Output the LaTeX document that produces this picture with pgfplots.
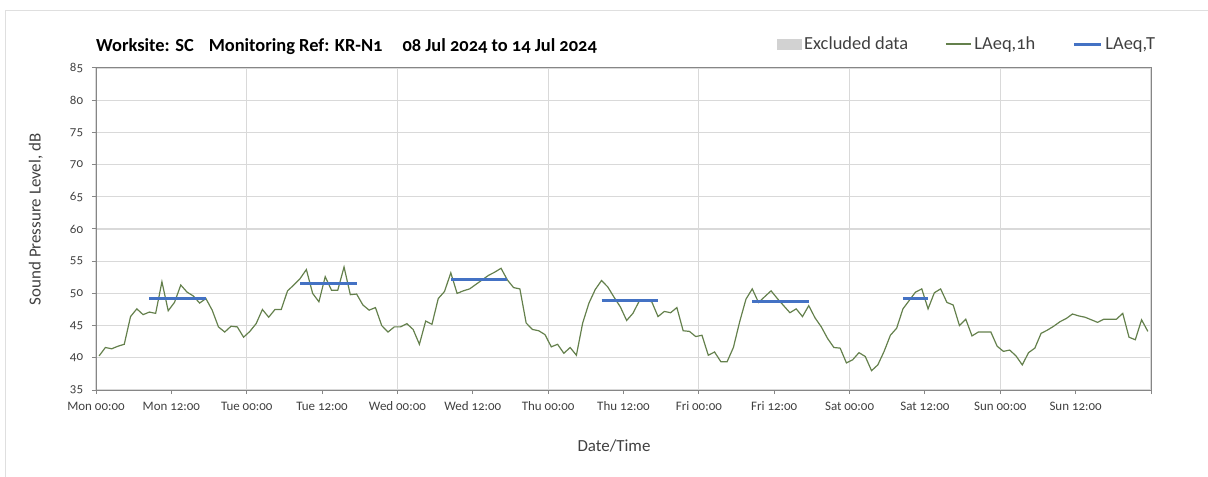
\documentclass[border=0pt]{standalone}
\usepackage{fontspec}
\setmainfont{Carlito}[Numbers=OldStyle]
\usepackage{pgfplots}
\pgfplotsset{compat=1.18}
\usepackage{pgfplotstable}
\definecolor{lineolive}{RGB}{100,128,76}
\definecolor{lineblue}{RGB}{68,114,196}
\definecolor{gridgray}{RGB}{217,217,217}
\definecolor{axisgray}{RGB}{134,134,134}
\definecolor{exclgray}{RGB}{210,210,210}
\definecolor{txt}{RGB}{64,64,64}

\pgfplotstableread{
x y
0.5 40.3
1.5 41.6
2.5 41.4
3.5 41.8
4.5 42.1
5.5 46.4
6.5 47.6
7.5 46.7
8.5 47.1
9.5 46.9
10.5 51.8
11.5 47.3
12.5 48.6
13.5 51.3
14.5 50.2
15.5 49.6
16.5 48.5
17.5 49.2
18.5 47.4
19.5 44.8
20.5 44.0
21.5 44.9
22.5 44.8
23.5 43.2
24.5 44.1
25.5 45.3
26.5 47.5
27.5 46.3
28.5 47.5
29.5 47.5
30.5 50.4
31.5 51.3
32.5 52.3
33.5 53.7
34.5 50.0
35.5 48.7
36.5 52.6
37.5 50.5
38.5 50.5
39.5 54.1
40.5 49.8
41.5 49.9
42.5 48.2
43.5 47.4
44.5 47.8
45.5 45.0
46.5 44.0
47.5 44.8
48.5 44.8
49.5 45.3
50.5 44.4
51.5 42.1
52.5 45.7
53.5 45.2
54.5 49.2
55.5 50.3
56.5 53.2
57.5 50.0
58.5 50.4
59.5 50.7
60.5 51.4
61.5 52.1
62.5 52.8
63.5 53.3
64.5 53.9
65.5 52.1
66.5 50.9
67.5 50.7
68.5 45.4
69.5 44.4
70.5 44.2
71.5 43.6
72.5 41.7
73.5 42.1
74.5 40.7
75.5 41.6
76.5 40.4
77.5 45.4
78.5 48.5
79.5 50.6
80.5 52.0
81.5 51.0
82.5 49.4
83.5 47.9
84.5 45.8
85.5 46.9
86.5 48.8
87.5 48.9
88.5 48.7
89.5 46.4
90.5 47.2
91.5 47.0
92.5 47.8
93.5 44.2
94.5 44.1
95.5 43.3
96.5 43.5
97.5 40.4
98.5 40.9
99.5 39.4
100.5 39.4
101.5 41.6
102.5 45.6
103.5 49.1
104.5 50.7
105.5 48.6
106.5 49.5
107.5 50.4
108.5 49.2
109.5 48.1
110.5 47.0
111.5 47.6
112.5 46.4
113.5 48.1
114.5 46.2
115.5 44.8
116.5 43.0
117.5 41.6
118.5 41.5
119.5 39.2
120.5 39.7
121.5 40.8
122.5 40.2
123.5 38.0
124.5 38.9
125.5 41.0
126.5 43.5
127.5 44.6
128.5 47.6
129.5 48.9
130.5 50.2
131.5 50.7
132.5 47.6
133.5 50.1
134.5 50.7
135.5 48.6
136.5 48.2
137.5 45.0
138.5 46.0
139.5 43.4
140.5 44.0
141.5 44.0
142.5 44.0
143.5 41.8
144.5 41.0
145.5 41.2
146.5 40.3
147.5 38.9
148.5 40.8
149.5 41.5
150.5 43.8
151.5 44.3
152.5 44.9
153.5 45.6
154.5 46.1
155.5 46.8
156.5 46.5
157.5 46.3
158.5 45.9
159.5 45.5
160.5 46.0
161.5 46.0
162.5 46.0
163.5 46.9
164.5 43.2
165.5 42.8
166.5 45.9
167.5 44.1
}\laeq

\begin{document}
\begin{tikzpicture}
\useasboundingbox (0,0) rectangle (1208bp,477bp);
\draw[gray!25, line width=1bp] (5.5bp,0) -- (5.5bp,466.5bp) -- (1208bp,466.5bp);
\node[anchor=base west, inner sep=0pt, font=\fontsize{18.5}{20}\selectfont\bfseries] at (96bp,425bp)
  {Worksite: SC\hspace{15bp}Monitoring Ref: KR-N1\hspace{20bp}08 Jul 2024 to 14 Jul 2024};
\begin{axis}[
  at={(96bp,87bp)}, anchor=south west,
  scale only axis, width=1055bp, height=322bp,
  xmin=0, xmax=168, ymin=35, ymax=85,
  xtick={0,24,...,168},
  xticklabels={Mon 00:00,Tue 00:00,Wed 00:00,Thu 00:00,Fri 00:00,Sat 00:00,Sun 00:00,{}},
  extra x ticks={12,36,...,156},
  extra x tick labels={Mon 12:00,Tue 12:00,Wed 12:00,Thu 12:00,Fri 12:00,Sat 12:00,Sun 12:00},
  extra x tick style={grid=none},
  ytick={35,40,...,85},
  xmajorgrids, ymajorgrids,
  grid style={gridgray, line width=1.2bp},
  axis line style={axisgray, line width=1bp},
  tick style={axisgray, line width=1bp},
  tick align=outside, major tick length=4bp,
  xtick pos=bottom, ytick pos=left,
  /pgf/number format/assume math mode=true,
  xticklabel style={font=\fontsize{13}{15}\selectfont, color=txt, inner sep=0pt, yshift=-7.5bp},
  yticklabel style={font=\fontsize{13}{15}\selectfont, color=txt, inner sep=0pt, xshift=-8.7bp},
  xlabel={Date/Time},
  xlabel style={at={(axis description cs:0.491,-0.174)}, anchor=center, font=\fontsize{17}{19}\selectfont, color=txt},
  ylabel={Sound Pressure Level, dB},
  ylabel style={at={(axis description cs:-0.057,0.53)}, anchor=center, font=\fontsize{17}{19}\selectfont, color=txt},
  legend columns=3,
  legend cell align=left,
  legend style={at={(1.0038,1.0745)}, anchor=east, draw=none, fill=none, inner sep=0pt, outer sep=0pt,
    nodes={inner sep=0pt}, font=\fontsize{18.5}{20}\selectfont\color{txt},
    /tikz/every odd column/.append style={column sep=3bp},
    /tikz/every even column/.append style={column sep=37bp}},
]
\addlegendimage{legend image code/.code={\fill[exclgray] (0bp,-5bp) rectangle (24bp,5bp);}}
\addlegendentry{Excluded data}
\addplot[lineolive, line width=1.2bp, legend image code/.code={\draw[lineolive, line width=1.2bp] (0bp,0bp) -- (25bp,0bp);}] table[x=x,y=y] {\laeq};
\addlegendentry{LAeq,1h}
\addplot[lineblue, line width=3bp, legend image code/.code={\draw[lineblue, line width=3bp] (0bp,0bp) -- (27bp,0bp);}] coordinates {(8.5,49.2) (17.5,49.2)};
\addlegendentry{LAeq,T}
\addplot[lineblue, line width=3bp, forget plot] coordinates {(32.5,51.5) (41.5,51.5)};
\addplot[lineblue, line width=3bp, forget plot] coordinates {(56.5,52.2) (65.5,52.2)};
\addplot[lineblue, line width=3bp, forget plot] coordinates {(80.5,48.9) (89.5,48.9)};
\addplot[lineblue, line width=3bp, forget plot] coordinates {(104.5,48.7) (113.5,48.7)};
\addplot[lineblue, line width=3bp, forget plot] coordinates {(128.5,49.2) (132.5,49.2)};
\end{axis}
\end{tikzpicture}
\end{document}
